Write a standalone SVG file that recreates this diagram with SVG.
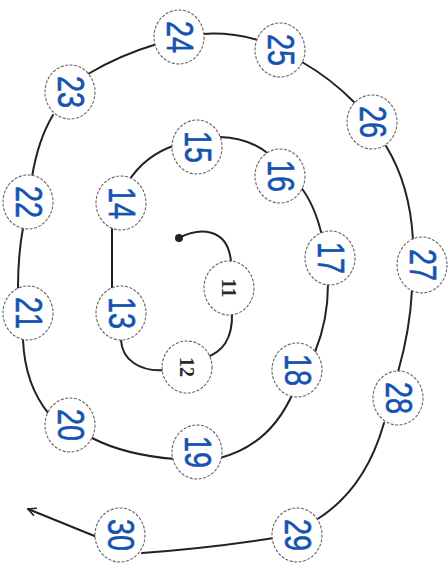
<svg xmlns="http://www.w3.org/2000/svg" width="448" height="563" viewBox="0 0 448 563">
<style>
.c{fill:none;stroke:#222;stroke-width:2;stroke-linecap:round}
.n ellipse{fill:#fff;stroke:#666;stroke-width:1.1;stroke-dasharray:3 1.5}
.h{font-family:"Liberation Sans",sans-serif;font-size:36px;fill:#1553b0;stroke:#1553b0;stroke-width:0.6;text-anchor:middle;dominant-baseline:central}
.p{font-family:"Liberation Serif",serif;font-size:20px;font-weight:bold;fill:#2a2a2a;text-anchor:middle;dominant-baseline:central}
</style>
<defs>
<marker id="ar" viewBox="0 0 10 10" refX="9" refY="5" markerWidth="10" markerHeight="10" markerUnits="userSpaceOnUse" orient="auto">
<path d="M1,1 L9,5 L1,9" fill="none" stroke="#222" stroke-width="1.6"/>
</marker>
</defs>
<rect width="448" height="563" fill="#fff"/>
<g id="connectors">
<circle cx="179" cy="238" r="4" fill="#222"/>
<path class="c" d="M179,238 C198,228 228,226 231,262"/>
<path class="c" d="M232,312 C233,340 222,352 205,358"/>
<path class="c" d="M165,370 C140,372 122,360 121,340"/>
<path class="c" d="M112,290 L112,226"/>
<path class="c" d="M128,182 Q145,155 176,145"/>
<path class="c" d="M220,137 Q250,138 270,155"/>
<path class="c" d="M300,186 Q315,205 322,236"/>
<path class="c" d="M328,284 Q328,320 315,352"/>
<path class="c" d="M293,393 Q270,445 220,458"/>
<path class="c" d="M175,459 Q125,455 92,438"/>
<path class="c" d="M49,414 Q25,385 23,340"/>
<path class="c" d="M18,288 Q18,255 23,228"/>
<path class="c" d="M32,177 Q38,140 53,115"/>
<path class="c" d="M88,74 Q120,55 157,44"/>
<path class="c" d="M202,34 Q230,32 258,40"/>
<path class="c" d="M302,62 Q330,78 354,102"/>
<path class="c" d="M386,146 Q410,185 413,240"/>
<path class="c" d="M412,290 Q410,330 398,372"/>
<path class="c" d="M384,423 Q365,490 316,520"/>
<path class="c" d="M274,538 Q210,548 142,553"/>
<path class="c" d="M97,537 L28,509" marker-end="url(#ar)"/>
</g>
<g id="n11" class="n"><ellipse cx="229" cy="288" rx="25" ry="27"/><text class="p" transform="translate(229,288) rotate(90)">11</text></g>
<g id="n12" class="n"><ellipse cx="187" cy="367" rx="25" ry="26"/><text class="p" transform="translate(187,367) rotate(90)">12</text></g>
<g id="n13" class="n"><ellipse cx="121" cy="313" rx="25" ry="27"/><text class="h" textLength="32" lengthAdjust="spacingAndGlyphs" transform="translate(121,313) rotate(90)">13</text></g>
<g id="n14" class="n"><ellipse cx="121" cy="203" rx="25" ry="27"/><text class="h" textLength="32" lengthAdjust="spacingAndGlyphs" transform="translate(121,203) rotate(90)">14</text></g>
<g id="n15" class="n"><ellipse cx="197" cy="147" rx="25" ry="27"/><text class="h" textLength="32" lengthAdjust="spacingAndGlyphs" transform="translate(197,147) rotate(90)">15</text></g>
<g id="n16" class="n"><ellipse cx="280" cy="176" rx="25" ry="27"/><text class="h" textLength="32" lengthAdjust="spacingAndGlyphs" transform="translate(280,176) rotate(90)">16</text></g>
<g id="n17" class="n"><ellipse cx="330" cy="258" rx="25" ry="27"/><text class="h" textLength="32" lengthAdjust="spacingAndGlyphs" transform="translate(330,258) rotate(90)">17</text></g>
<g id="n18" class="n"><ellipse cx="297" cy="370" rx="25" ry="27"/><text class="h" textLength="32" lengthAdjust="spacingAndGlyphs" transform="translate(297,370) rotate(90)">18</text></g>
<g id="n19" class="n"><ellipse cx="197" cy="452" rx="25" ry="27"/><text class="h" textLength="32" lengthAdjust="spacingAndGlyphs" transform="translate(197,452) rotate(90)">19</text></g>
<g id="n20" class="n"><ellipse cx="70" cy="425" rx="25" ry="27"/><text class="h" textLength="32" lengthAdjust="spacingAndGlyphs" transform="translate(70,425) rotate(90)">20</text></g>
<g id="n21" class="n"><ellipse cx="28" cy="313" rx="25" ry="27"/><text class="h" textLength="32" lengthAdjust="spacingAndGlyphs" transform="translate(28,313) rotate(90)">21</text></g>
<g id="n22" class="n"><ellipse cx="28" cy="202" rx="25" ry="27"/><text class="h" textLength="32" lengthAdjust="spacingAndGlyphs" transform="translate(28,202) rotate(90)">22</text></g>
<g id="n23" class="n"><ellipse cx="70" cy="92" rx="25" ry="27"/><text class="h" textLength="32" lengthAdjust="spacingAndGlyphs" transform="translate(70,92) rotate(90)">23</text></g>
<g id="n24" class="n"><ellipse cx="179" cy="37" rx="25" ry="27"/><text class="h" textLength="32" lengthAdjust="spacingAndGlyphs" transform="translate(179,37) rotate(90)">24</text></g>
<g id="n25" class="n"><ellipse cx="280" cy="50" rx="25" ry="27"/><text class="h" textLength="32" lengthAdjust="spacingAndGlyphs" transform="translate(280,50) rotate(90)">25</text></g>
<g id="n26" class="n"><ellipse cx="372" cy="122" rx="25" ry="27"/><text class="h" textLength="32" lengthAdjust="spacingAndGlyphs" transform="translate(372,122) rotate(90)">26</text></g>
<g id="n27" class="n"><ellipse cx="422" cy="265" rx="25" ry="28"/><text class="h" textLength="32" lengthAdjust="spacingAndGlyphs" transform="translate(422,265) rotate(90)">27</text></g>
<g id="n28" class="n"><ellipse cx="398" cy="398" rx="25" ry="27"/><text class="h" textLength="32" lengthAdjust="spacingAndGlyphs" transform="translate(398,398) rotate(90)">28</text></g>
<g id="n29" class="n"><ellipse cx="297" cy="535" rx="25" ry="27"/><text class="h" textLength="32" lengthAdjust="spacingAndGlyphs" transform="translate(297,535) rotate(90)">29</text></g>
<g id="n30" class="n"><ellipse cx="120" cy="535" rx="25" ry="27"/><text class="h" textLength="32" lengthAdjust="spacingAndGlyphs" transform="translate(120,535) rotate(90)">30</text></g>
</svg>
